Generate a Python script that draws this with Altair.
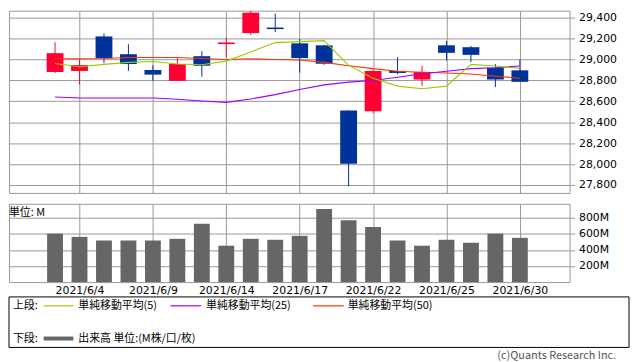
import altair as alt
import pandas as pd

dates = ["2021/6/3", "2021/6/4", "2021/6/7", "2021/6/8", "2021/6/9", "2021/6/10",
         "2021/6/11", "2021/6/14", "2021/6/15", "2021/6/16", "2021/6/17", "2021/6/18",
         "2021/6/21", "2021/6/22", "2021/6/23", "2021/6/24", "2021/6/25", "2021/6/28",
         "2021/6/29", "2021/6/30"]
open_ = [28880, 28890, 29220, 29050, 28899, 28795, 29031, 29147, 29252, 29305,
         29154, 29135, 28512, 28505, 28890, 28808, 29135, 29117, 28921, 28896]
high = [29164, 29000, 29249, 29145, 28944, 29022, 29079, 29211, 29488, 29438,
        29195, 29140, 28512, 28902, 29022, 28940, 29176, 29129, 28956, 29000]
low = [28871, 28760, 28965, 28890, 28795, 28795, 28836, 29022, 29233, 29261,
       28874, 28949, 27787, 28486, 28858, 28748, 28989, 28975, 28736, 28786]
close = [29060, 28946, 29012, 28956, 28855, 28956, 28940, 29162, 29447, 29290,
         29013, 28959, 28002, 28890, 28871, 28880, 29063, 29044, 28808, 28786]
ma5 = [28962, 28930, 28953, 28972, 28981, 28956, 28950, 28984, 29072, 29161,
       29170, 29180, 28943, 28821, 28745, 28720, 28745, 28953, 28937, 28915]
ma25 = [28641, 28632, 28632, 28632, 28632, 28619, 28603, 28590, 28622, 28664,
        28712, 28757, 28783, 28798, 28830, 28864, 28887, 28912, 28921, 28937]
ma50 = [29006, 29006, 29009, 29019, 29019, 29019, 29009, 29000, 29006, 29000,
        28994, 28972, 28940, 28912, 28887, 28877, 28871, 28861, 28840, 28821]
vol = [604, 563, 518, 518, 518, 539, 726, 453, 539, 527,
       576, 910, 771, 686, 518, 453, 527, 490, 604, 551]

tick_idx = [1, 4, 7, 10, 13, 16, 19]
price_ticks = [27800, 28000, 28200, 28400, 28600, 28800, 29000, 29200, 29400]
vol_ticks = [200, 400, 600, 800]

legend_top = "上段:"
legend_bottom = "下段:"
ma_labels = ["単純移動平均(5)", "単純移動平均(25)", "単純移動平均(50)"]
vol_label = "出来高 単位:(M株/口/枚)"
unit_label = "単位: M"
copyright_text = "(c)Quants Research Inc."

UP, DOWN = "#FF0033", "#003399"
C5, C25, C50 = "#99CC00", "#9900FF", "#FF3300"
GRID = "#999999"
CJK = "Noto Sans CJK JP"

df = pd.DataFrame({"i": list(range(len(dates))), "date": dates, "open": open_,
                   "high": high, "low": low, "close": close, "vol": vol,
                   "ma5": ma5, "ma25": ma25, "ma50": ma50})
df["dir"] = ["up" if c >= o else "down" for o, c in zip(open_, close)]

label_expr = "[" + ",".join(f"'{d}'" for d in dates) + "][datum.value]"
xscale = alt.Scale(domain=[-1.68, 20.83], nice=False, zero=False)
x_top = alt.X("i:Q", scale=xscale,
              axis=alt.Axis(values=tick_idx, grid=True, labels=False, ticks=False,
                            domain=False, title=None))
yscale = alt.Scale(domain=[27724, 29466], nice=False, zero=False)
yaxis = alt.Axis(orient="right", values=price_ticks,
                 labelExpr="format(datum.value, ',')", tickSize=5,
                 labelPadding=4, title=None, grid=True, domain=False, labelFlush=False)
color = alt.Color("dir:N", scale=alt.Scale(domain=["up", "down"], range=[UP, DOWN]),
                  legend=None)

base = alt.Chart(df)
wick = base.mark_rule(strokeWidth=1, clip=True).encode(
    x=x_top, y=alt.Y("low:Q", scale=yscale, axis=yaxis), y2="high:Q", color=color)
body = base.mark_bar(size=17).encode(
    x=x_top, y=alt.Y("open:Q", scale=yscale, axis=yaxis), y2="close:Q", color=color)


def ma_line(field, col):
    return base.mark_line(color=col, strokeWidth=1.1).encode(
        x=x_top, y=alt.Y(f"{field}:Q", scale=yscale, axis=yaxis))


top = alt.layer(wick, body, ma_line("ma50", C50), ma_line("ma25", C25),
                ma_line("ma5", C5)).properties(width=566, height=184)

vx = alt.X("i:Q", scale=xscale,
           axis=alt.Axis(values=tick_idx, grid=True, labelExpr=label_expr, ticks=False,
                         domain=False, title=None, labelPadding=3, labelFlush=False))
vy = alt.Y("vol:Q", scale=alt.Scale(domain=[0, 975], nice=False),
           axis=alt.Axis(orient="right", values=vol_ticks, labelExpr="datum.value + 'M'",
                         tickSize=5, labelPadding=4, title=None, domain=False,
                         labelFlush=False))
bars = base.mark_bar(size=16, color="#666666").encode(x=vx, y=vy)

one = alt.Chart(pd.DataFrame({"k": [0]}))


def txt(s, x, y, align="left", color="#000000", size=11):
    return one.mark_text(align=align, baseline="middle", font=CJK, fontSize=size,
                         color=color).encode(x=alt.value(x), y=alt.value(y),
                                             text=alt.value(s))


def seg(x1, x2, y, col, w):
    return one.mark_rule(color=col, strokeWidth=w).encode(
        x=alt.value(x1), x2=alt.value(x2), y=alt.value(y))


box = one.mark_rect(fillOpacity=0, stroke="#000000", strokeWidth=1).encode(
    x=alt.value(0), x2=alt.value(626), y=alt.value(94), y2=alt.value(145))

row1, row2 = 103, 136
legend_layers = [
    box,
    txt(legend_top, 4, row1),
    seg(35, 65, row1, C5, 1.2), txt(ma_labels[0], 70, row1),
    seg(163, 194, row1, C25, 1.2), txt(ma_labels[1], 199, row1),
    seg(307, 338, row1, C50, 1.2), txt(ma_labels[2], 342, row1),
    txt(legend_bottom, 4, row2),
    seg(35, 65, row2, "#666666", 4), txt(vol_label, 70, row2),
    txt(copyright_text, 613, 154, align="right", color="#555555"),
    txt(unit_label, 0, 9),
]

volume = alt.layer(bars, *legend_layers).properties(width=566, height=79)

chart = alt.vconcat(top, volume, spacing=9).properties(
    padding=0, background="white"
).configure_view(stroke=GRID, strokeWidth=1).configure_axis(
    labelFont="DejaVu Sans", labelFontSize=11, labelColor="#000000",
    gridColor=GRID, gridWidth=1, tickColor=GRID, tickWidth=1
)

chart.save("out.html", embed_options={"renderer": "svg", "actions": False})
